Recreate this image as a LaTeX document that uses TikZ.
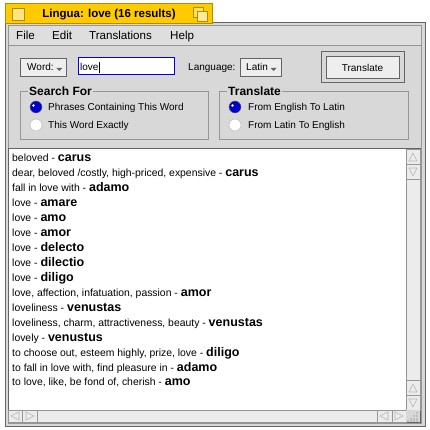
\documentclass[tikz,border=0pt]{standalone}
\usepackage{fontspec}
\setmainfont{Liberation Sans}
\usetikzlibrary{positioning,calc}
\definecolor{panel}{RGB}{216,216,216}
\definecolor{menubg}{RGB}{222,222,222}
\definecolor{tab}{RGB}{255,203,0}
\definecolor{tabedge}{RGB}{176,140,0}
\definecolor{edge}{RGB}{150,150,150}
\definecolor{dark}{RGB}{100,100,100}
\definecolor{btnfill}{RGB}{238,238,238}
\definecolor{radio}{RGB}{0,0,200}
\definecolor{field}{RGB}{0,0,230}
\definecolor{sbar}{RGB}{236,236,236}
\definecolor{arrowc}{RGB}{180,180,180}
\newcommand\latinword[1]{{\bfseries\fontsize{12.5}{14}\selectfont #1}}

\begin{document}
\begin{tikzpicture}[
        x=1pt, y=-1pt,
        menu/.style={anchor=base west, inner sep=0pt, font=\fontsize{11.6}{13}\selectfont},
        lbl/.style={anchor=base west, inner sep=0pt, font=\fontsize{10}{12}\selectfont},
        grp/.style={anchor=base west, inner sep=1pt, fill=panel, font=\bfseries\fontsize{12}{14}\selectfont},
        row/.style={anchor=base west, inner sep=0pt, font=\fontsize{10.4}{12}\selectfont},
        btn/.style={draw=dark, fill=btnfill, line width=.8pt},
        etch/.style={draw=edge, line width=.8pt},
        on/.style={circle, draw=dark, fill=radio, minimum size=12pt, inner sep=0pt},
        off/.style={circle, draw=arrowc, fill=white, minimum size=12pt, inner sep=0pt},
        sarrow/.style={draw=arrowc, line width=.6pt},
        ]
        \useasboundingbox (0,0) rectangle (430,430);
        % window frame and tab
        \fill[white] (0,0) rectangle (430,430);
        \draw[fill=panel, draw=dark, line width=.8pt] (5,22) rectangle (425,426);
        \draw[edge] (8,25) rectangle (421,423);
        \draw[fill=tab, draw=tabedge, line width=.8pt] (5,3) rectangle (212,23);
        \draw[fill=tab!50!white, draw=tabedge] (12,8) rectangle (24,20);
        \draw[fill=tab!60!white, draw=tabedge] (193,7) rectangle (203,17);
        \draw[fill=tab!40!white, draw=tabedge] (197,11) rectangle (207,21);
        \node (title) [anchor=base, inner sep=0pt, font=\bfseries\fontsize{11.5}{13}\selectfont] at (109,18) {Lingua: love (16 results)};
        % menu bar
        \draw[fill=menubg, draw=edge] (8,25) rectangle (421,45);
        \node (file)  [menu] at (16,40) {File};
        \node (edit)  [menu] at (52,40) {Edit};
        \node (trans) [menu] at (89,40) {Translations};
        \node (help)  [menu] at (170,40) {Help};
        % top controls
        \draw[btn] (20,58) rectangle (66,76);
        \node (word) [lbl, anchor=base west] at (27,71) {Word:};
        \fill[dark] ($(word.base east)+(2.5,-3)$) -- ++(6,0) -- ++(-3,3) -- cycle;
        \draw[fill=white, draw=field, line width=1pt] (78,58) rectangle (174,75);
        \node (query) [lbl] at (80,71) {love};
        \draw[line width=.8pt] ($(query.base east)+(.8,2)$) -- ++(0,-11);
        \node (lang) [lbl] at (188,71) {Language:};
        \draw[btn] (240,58) rectangle (281,76);
        \node (latin) [lbl] at (246,71) {Latin};
        \fill[dark] ($(latin.base east)+(2.5,-3)$) -- ++(6,0) -- ++(-3,3) -- cycle;
        \draw[draw=dark, fill=panel, line width=.8pt] (321,51) rectangle (404,82);
        \draw[btn] (326,56) rectangle (399,78);
        \node (go) [lbl, anchor=base] at (362.5,72) {Translate};
        % option groups
        \draw[etch] (20,91) rectangle (208,139);
        \node (search) [grp] at (28,96) {Search For};
        \node (ph) [on]  at (36,107) {};
        \node (ex) [off] at (36,125) {};
        \node (phl) [lbl] at (48,111) {Phrases Containing This Word};
        \node (exl) [lbl] at (48,129) {This Word Exactly};
        \draw[etch] (219,91) rectangle (408,139);
        \node (dir) [grp] at (227,96) {Translate};
        \node (el) [on]  at (235,107) {};
        \node (le) [off] at (235,125) {};
        \node (ell) [lbl] at (248,111) {From English To Latin};
        \node (lel) [lbl] at (248,129) {From Latin To English};
        \fill[white] (ph.center) ++(-2.5,-1.5) circle (1.3);
        \fill[white] (el.center) ++(-2.5,-1.5) circle (1.3);
        % result list
        \draw[fill=white, draw=dark, line width=.8pt] (8,148) rectangle (420,422);
        \foreach \en/\la [count=\i] in {
          beloved/carus,
          {dear, beloved /costly, high-priced, expensive}/carus,
          fall in love with/adamo,
          love/amare, love/amo, love/amor, love/delecto, love/dilectio, love/diligo,
          {love, affection, infatuation, passion}/amor,
          loveliness/venustas,
          {loveliness, charm, attractiveness, beauty}/venustas,
          lovely/venustus,
          {to choose out, esteem highly, prize, love}/diligo,
          {to fall in love with, find pleasure in}/adamo,
          {to love, like, be fond of, cherish}/amo}
          \node (r\i) [row] at (12,{162+14.93*(\i-1)}) {\en{} - \latinword{\la}};
        % scroll bars
        \draw[fill=sbar, draw=edge] (406,149) rectangle (420,410);
        \draw[fill=sbar, draw=edge] (8,410) rectangle (406,422);
        \foreach \t/\b in {149/164, 164/179, 380/395, 395/410}
          \draw[fill=sbar, draw=edge] (406,\t) rectangle (420,\b);
        \draw[sarrow] (413,153) -- (409,161) -- (417,161) -- cycle;
        \draw[sarrow] (413,176) -- (409,168) -- (417,168) -- cycle;
        \draw[sarrow] (413,384) -- (409,392) -- (417,392) -- cycle;
        \draw[sarrow] (413,407) -- (409,399) -- (417,399) -- cycle;
        \foreach \l/\r in {8/22, 22/37, 377/392, 392/406}
          \draw[fill=sbar, draw=edge] (\l,410) rectangle (\r,422);
        \draw[sarrow] (11,416) -- (19,412) -- (19,420) -- cycle;
        \draw[sarrow] (34,416) -- (26,412) -- (26,420) -- cycle;
        \draw[sarrow] (380,416) -- (388,412) -- (388,420) -- cycle;
        \draw[sarrow] (403,416) -- (395,412) -- (395,420) -- cycle;
        % resize corner
        \fill[panel] (406,410) rectangle (420,422);
        \foreach \p in {(417,413),(414,416),(417,416),(411,419),(414,419),(417,419),(408,421),(411,421),(414,421),(417,421)}
          \fill[dark] \p circle (.6);
      \end{tikzpicture}
\end{document}
